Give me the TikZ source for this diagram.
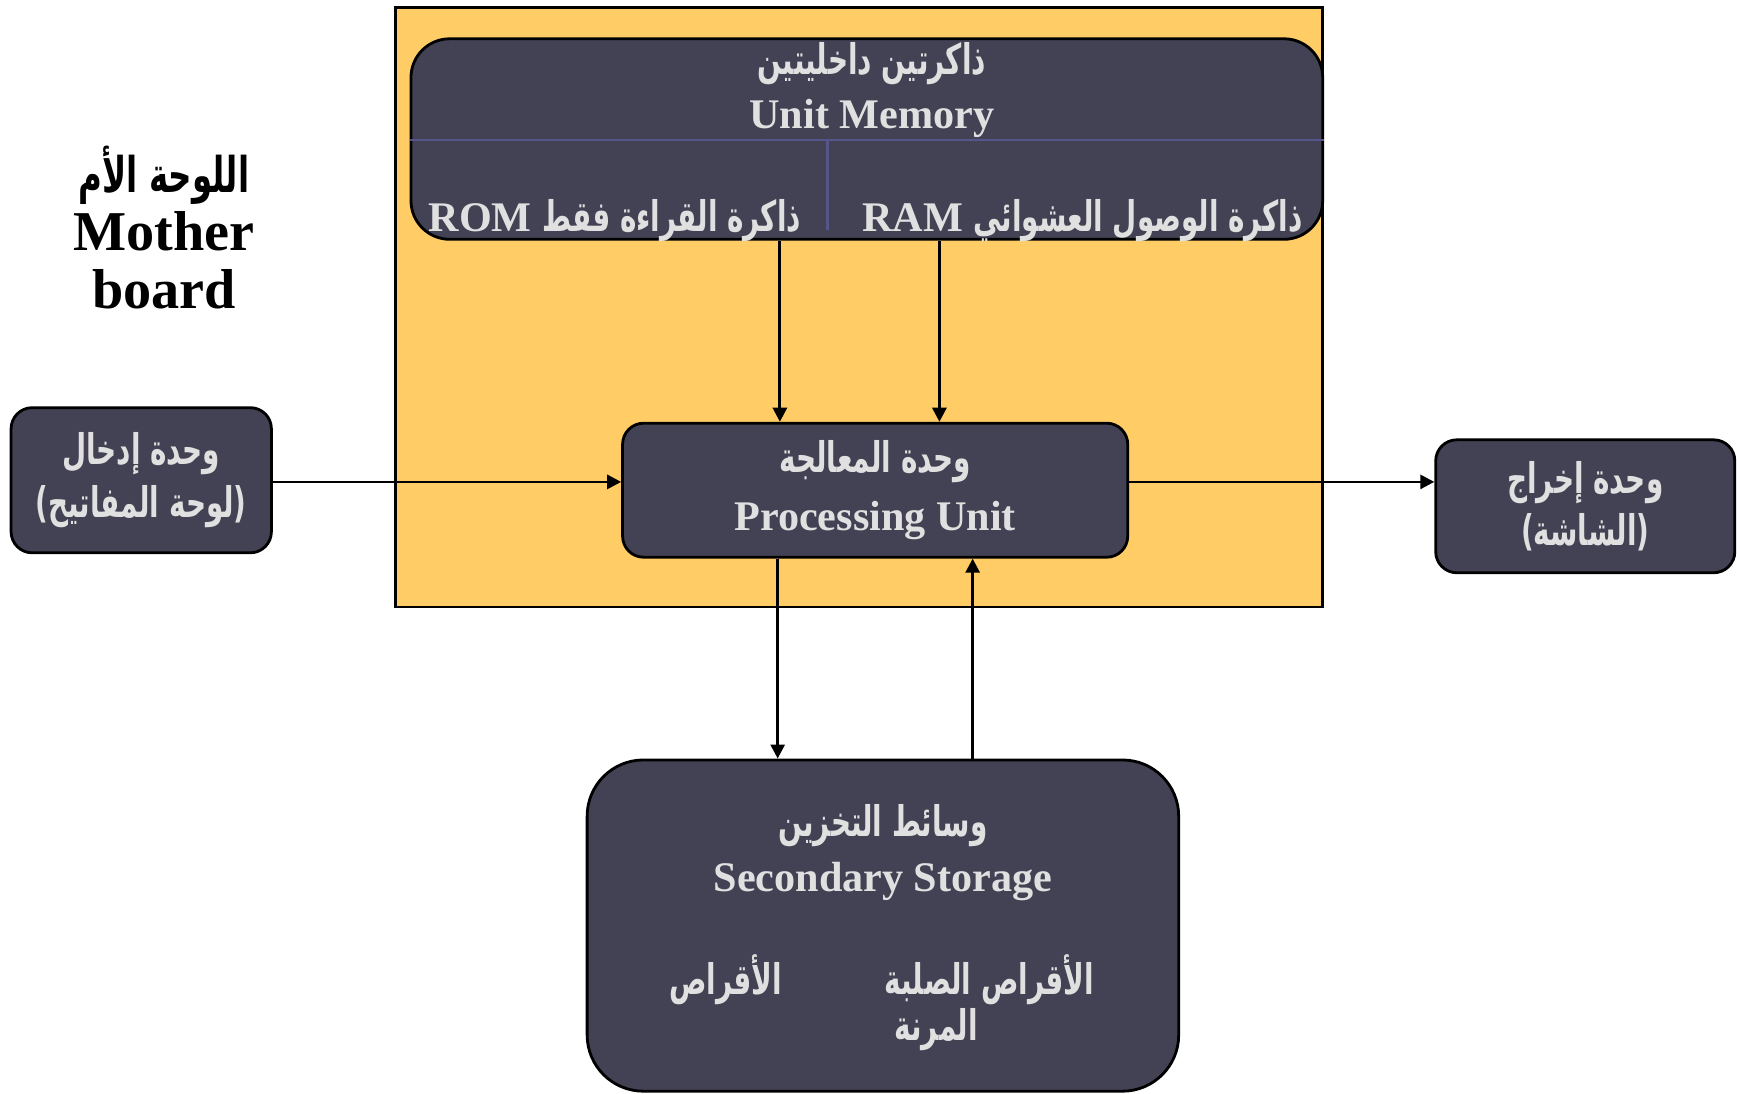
\documentclass[tikz,border=0pt]{standalone}
\usepackage{fontspec}
\setmainfont{Liberation Serif}
\newfontfamily\arabicfont[Script=Arabic,FakeStretch=0.66]{DejaVu Sans}
\TeXXeTstate=1
\usetikzlibrary{positioning,arrows.meta}
\definecolor{boardyellow}{HTML}{FFCC66}
\definecolor{unitfill}{HTML}{424254}
\definecolor{unittext}{HTML}{E0E0E0}
\definecolor{splitline}{HTML}{55558C}
\newcommand{\px}{0.011078cm}
\newcommand{\arabictxt}[1]{{\arabicfont\bfseries\beginR #1\endR}}

\begin{document}
\begin{tikzpicture}[x=0.011078cm, y=-0.011078cm,
  every node/.style={font=\bfseries\fontsize{12}{15}\selectfont},
  unit/.style={draw, line width=0.8pt, fill=unitfill, text=unittext, rounded corners=6pt, align=center, inner sep=0pt},
  lbl/.style={text=unittext, inner sep=0pt},
  link/.style={-{Triangle[length=4pt,width=4pt]}, line width=0.8pt}]

\useasboundingbox (0,0) rectangle (1568,987);

% mother board area
\node[draw, line width=0.8pt, fill=boardyellow, minimum width=837*\px, minimum height=541*\px, inner sep=0pt] (board) at (775.5,277.5) {};
\node[align=center, font=\bfseries\fontsize{16}{16.5}\selectfont] (mb) at (148,205) {{\fontsize{14}{16.5}\selectfont\arabictxt{اللوحة الأم}}\\Mother\\board};

% memory unit
\node[unit, rounded corners=11pt, minimum width=823*\px, minimum height=181*\px] (mem) at (782.5,125.5) {};
\draw[splitline, line width=0.6pt] (mem.west |- 0,126) -- (mem.east |- 0,126);
\draw[splitline, line width=0.6pt] (747,126) -- (747,208);
\node[lbl] (memar) at (787,57) {\arabictxt{ذاكرتين داخليتين}};
\node[lbl] (memen) at (787,107) {Unit Memory};
\node[lbl] (rom) at (555,199) {ROM \arabictxt{ذاكرة القراءة  فقط}};
\node[lbl] (ram) at (977,199) {RAM \arabictxt{ذاكرة الوصول العشوائي}};

% units
\node[unit, minimum width=235*\px, minimum height=131*\px] (in) at (127.5,433.5) {\arabictxt{وحدة إدخال}\\\arabictxt{(لوحة المفاتيح)}};
\node[unit, minimum width=456*\px, minimum height=121*\px] (proc) at (790,442.5) {\arabictxt{وحدة المعالجة}\\[1.5pt]Processing Unit};
\node[unit, minimum width=270*\px, minimum height=120*\px] (out) at (1431,457) {\arabictxt{وحدة إخراج}\\\arabictxt{(الشاشة)}};
\node[unit, rounded corners=16pt, minimum width=534*\px, minimum height=299*\px] (store) at (797,835.5) {};
\node[lbl] (storear) at (797,745) {\arabictxt{وسائط التخزين}};
\node[lbl] (storeen) at (797,796) {Secondary Storage};
\node[lbl] (disks) at (655,884) {\arabictxt{الأقراص}};
\node[lbl] (hard) at (893,884) {\arabictxt{الأقراص الصلبة}};
\node[lbl] (floppy) at (845,929) {\arabictxt{المرنة}};

% connectors
\coordinate (ioline) at (0,435);
\coordinate (romdrop) at (704,0);
\coordinate (ramdrop) at (848,0);
\coordinate (saveline) at (702,0);
\coordinate (loadline) at (878,0);
\draw[link] (in.east |- ioline) -- (proc.west |- ioline);
\draw[link] (proc.east |- ioline) -- (out.west |- ioline);
\draw[link] (mem.south -| romdrop) -- (proc.north -| romdrop);
\draw[link] (mem.south -| ramdrop) -- (proc.north -| ramdrop);
\draw[link] (proc.south -| saveline) -- (store.north -| saveline);
\draw[link] (store.north -| loadline) -- (proc.south -| loadline);
\end{tikzpicture}
\end{document}
